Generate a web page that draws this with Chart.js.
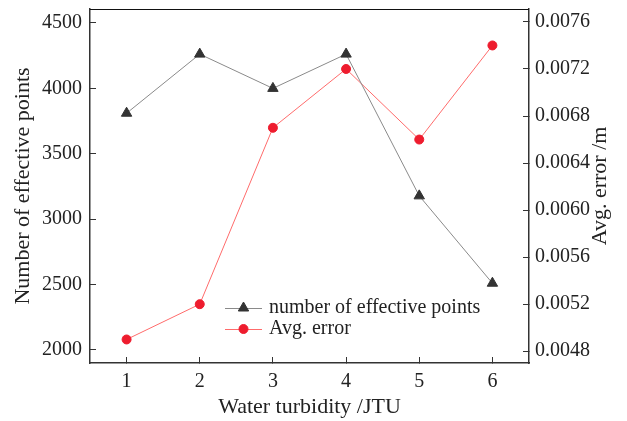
<!DOCTYPE html>
<html>
<head>
<meta charset="utf-8">
<script src="https://cdn.jsdelivr.net/npm/chart.js@4/dist/chart.umd.min.js"></script>
<style>
  html, body { margin: 0; padding: 0; background: #fff; }
  canvas { display: block; }
</style>
</head>
<body>
<canvas id="chart" width="627" height="421"></canvas>
<script>
// data
const turbidity = [1, 2, 3, 4, 5, 6];
const effectivePoints = [3810, 4262, 4000, 4262, 3178, 2510];
const avgError = [0.0049, 0.0052, 0.0067, 0.0072, 0.0066, 0.0074];

// tick values
const xTicks = [1, 2, 3, 4, 5, 6];
const leftTicks = [2000, 2500, 3000, 3500, 4000, 4500];
const rightTicks = [0.0048, 0.0052, 0.0056, 0.0060, 0.0064, 0.0068, 0.0072, 0.0076];

const seriesNames = ['number of effective points', 'Avg. error'];
const xTitle = 'Water turbidity /JTU';
const yLeftTitle = 'Number of effective points';
const yRightTitle = 'Avg. error /m';

const serif = '"Liberation Serif", "DejaVu Serif", serif';
const axisColor = '#333';

// legend inside the plot, top frame line, right title reading upwards
const extras = {
    id: 'extras',
    afterDraw(chart) {
        const ctx = chart.ctx;
        const area = chart.chartArea;
        ctx.save();
        ctx.strokeStyle = '#111';
        ctx.lineWidth = 1;
        ctx.beginPath();
        ctx.moveTo(area.left, area.top + 0.5);
        ctx.lineTo(area.right, area.top + 0.5);
        ctx.stroke();

        const x0 = 225, x1 = 262, tx = 269;
        const rows = [308, 329];
        chart.data.datasets.forEach((ds, i) => {
            const y = rows[i];
            ctx.strokeStyle = ds.borderColor;
            ctx.lineWidth = 1;
            ctx.beginPath();
            ctx.moveTo(x0, y + 0.5);
            ctx.lineTo(x1, y + 0.5);
            ctx.stroke();
            ctx.fillStyle = ds.pointBackgroundColor;
            ctx.strokeStyle = ds.pointBorderColor;
            Chart.helpers.drawPoint(ctx, {
                pointStyle: ds.pointStyle,
                radius: ds.pointRadius,
                rotation: 0,
                borderWidth: 1
            }, (x0 + x1) / 2, y);
            ctx.fillStyle = '#222';
            ctx.font = '20px ' + serif;
            ctx.textAlign = 'left';
            ctx.textBaseline = 'middle';
            ctx.fillText(ds.label, tx, y);
        });

        ctx.translate(600, (area.top + area.bottom) / 2);
        ctx.rotate(-Math.PI / 2);
        ctx.fillStyle = '#222';
        ctx.font = '22px ' + serif;
        ctx.textAlign = 'center';
        ctx.textBaseline = 'middle';
        ctx.fillText(yRightTitle, 0, 0);
        ctx.restore();
    }
};

const fixedTicks = values => scale => {
    scale.ticks = values.map(v => ({ value: v }));
};

const fitWidth = w => scale => {
    scale.width = w;
    scale.paddingTop = 0;
    scale.paddingBottom = 0;
};

new Chart(document.getElementById('chart'), {
    type: 'line',
    data: {
        datasets: [
            {
                label: seriesNames[0],
                data: turbidity.map((t, i) => ({ x: t, y: effectivePoints[i] })),
                yAxisID: 'y',
                borderColor: '#8a8a8a',
                borderWidth: 1,
                pointStyle: 'triangle',
                pointRadius: 6,
                pointBackgroundColor: '#333',
                pointBorderColor: '#333',
                pointBorderWidth: 1
            },
            {
                label: seriesNames[1],
                data: turbidity.map((t, i) => ({ x: t, y: avgError[i] })),
                yAxisID: 'y2',
                borderColor: '#ff6b6b',
                borderWidth: 1,
                pointStyle: 'circle',
                pointRadius: 4.5,
                pointBackgroundColor: '#ee1c2e',
                pointBorderColor: '#ee1c2e',
                pointBorderWidth: 1
            }
        ]
    },
    options: {
        responsive: false,
        animation: false,
        layout: { padding: { top: 9, left: 0, right: 0, bottom: 0 } },
        plugins: {
            legend: { display: false },
            tooltip: { enabled: false }
        },
        scales: {
            x: {
                type: 'linear',
                min: 0.5,
                max: 6.5,
                afterBuildTicks: fixedTicks(xTicks),
                border: { display: true, color: axisColor, width: 1.5 },
                grid: { drawOnChartArea: false, drawTicks: true, tickLength: -6, color: axisColor, tickColor: axisColor },
                ticks: { padding: 13, color: '#222', font: { family: serif, size: 20 }, callback: v => String(v) },
                title: { display: true, text: xTitle, color: '#222', padding: { top: 0, bottom: 1 }, font: { family: serif, size: 22, lineHeight: 1.2 } },
                afterFit(scale) {
                    scale.height = 58;
                    scale.paddingLeft = 0;
                    scale.paddingRight = 0;
                }
            },
            y: {
                position: 'left',
                min: 1900,
                max: 4607,
                afterBuildTicks: fixedTicks(leftTicks),
                border: { display: true, color: axisColor, width: 1.5 },
                grid: { drawOnChartArea: false, drawTicks: true, tickLength: -6, color: axisColor, tickColor: axisColor },
                ticks: { padding: 14, color: '#222', font: { family: serif, size: 20 }, callback: v => String(v) },
                title: { display: true, text: yLeftTitle, color: '#222', padding: { top: 10, bottom: 0 }, font: { family: serif, size: 22, lineHeight: 1.2 } },
                afterFit: fitWidth(90)
            },
            y2: {
                position: 'right',
                min: 0.0047,
                max: 0.00771,
                afterBuildTicks: fixedTicks(rightTicks),
                border: { display: true, color: axisColor, width: 1.5 },
                grid: { drawOnChartArea: false, drawTicks: true, tickLength: -6, color: axisColor, tickColor: axisColor },
                ticks: {
                    padding: 12,
                    color: '#222',
                    font: { family: serif, size: 20 },
                    callback: v => v.toFixed(4)
                },
                title: { display: false, text: yRightTitle },
                afterFit: fitWidth(98)
            }
        }
    },
    plugins: [extras]
});
</script>
</body>
</html>
